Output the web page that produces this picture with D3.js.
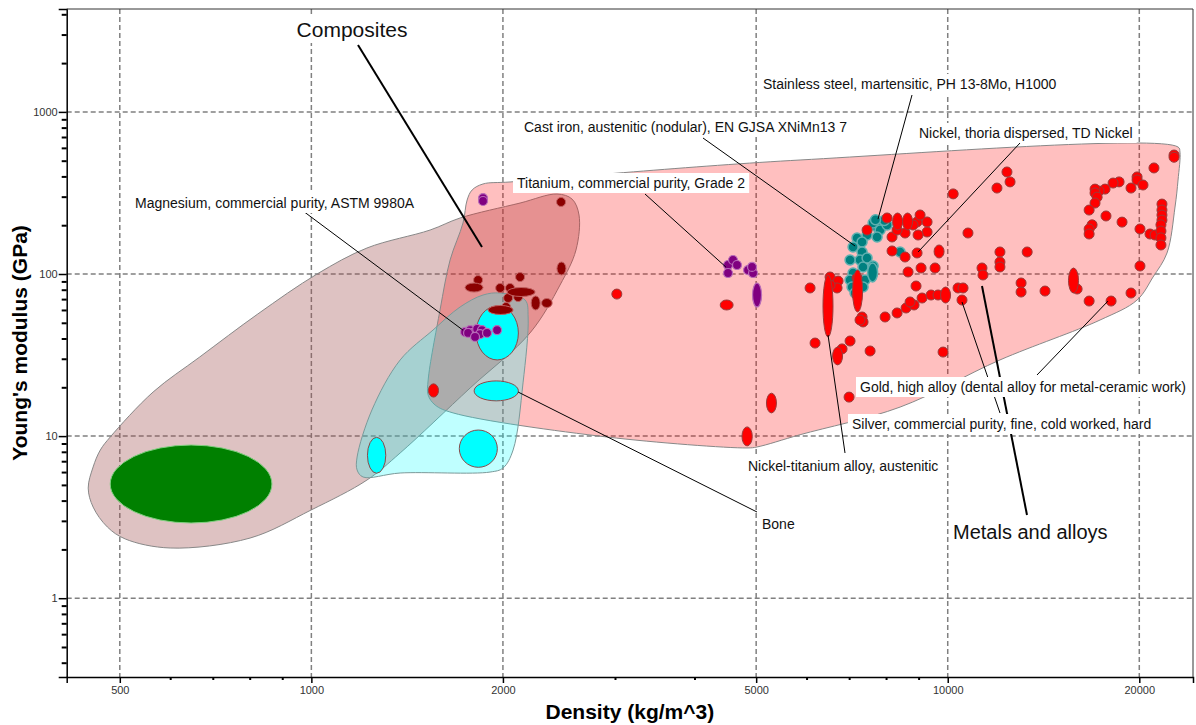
<!DOCTYPE html>
<html>
<head>
<meta charset="utf-8">
<script src="https://cdnjs.cloudflare.com/ajax/libs/d3/7.8.5/d3.min.js"></script>
<style>
  body { margin: 0; background: #fff; }
  svg { display: block; font-family: "Liberation Sans", Arial, sans-serif; }
</style>
</head>
<body>
<div id="chart"></div>
<script>
// ---- data: density (kg/m^3), Young's modulus (GPa) ----
const xMajor = [500, 1000, 2000, 5000, 10000, 20000];
const xMinor = [600, 700, 800, 900, 3000, 4000, 6000, 7000, 8000, 9000];
const yMajor = [1, 10, 100, 1000];
const yMinor = [0.4, 0.5, 0.6, 0.7, 0.8, 0.9, 2, 3, 4, 5, 6, 7, 8, 9,
  20, 30, 40, 50, 60, 70, 80, 90, 200, 300, 400, 500, 600, 700, 800, 900, 2000, 3000, 4000];

// family envelopes, outline points [density, modulus]
const naturalEnvelope = [[466, 8.21], [483, 9.87], [564, 18.7], [668, 30.8], [824, 56.7], [1021, 100],
  [1223, 144.7], [1537, 186.8], [1713, 221.6], [2128, 274], [2432, 311.5], [2568, 290], [2634, 231],
  [2605, 140.6], [2459, 85.5], [2206, 43.3], [1776, 19.8], [1379, 7.87], [1223, 5.36], [999, 3.5],
  [801, 2.35], [600, 2.04], [510, 2.32], [478, 2.75], [454, 3.65], [446, 4.78], [454, 6.45]];
const metalsEnvelope = [[1789, 329.8], [1861, 359.2], [2052, 369.6], [5861, 505], [23010, 607.5],
  [23170, 565], [23010, 380], [22760, 259], [22110, 134.8], [21020, 95.8], [19840, 69.1], [17350, 52],
  [12080, 29.5], [8416, 15.1], [5861, 10.2], [5016, 8.57], [4837, 8.45], [2915, 9.87], [1670, 13.9],
  [1565, 15.55], [1526, 17.9], [1526, 22.2], [1593, 60], [1652, 122], [1731, 206.4], [1757, 286]];
const boneEnvelope = [[1180, 7.43], [1245, 14.5], [1379, 29.5], [1553, 45.1], [1713, 62.6], [1861, 74.2],
  [1980, 76.3], [2167, 69.1], [2191, 54.3], [2151, 21.3], [2075, 8.21], [2001, 6.36], [1909, 6.0],
  [1379, 5.92], [1206, 5.59], [1180, 6.18]];

// materials: [density, modulus] or ranges [rhoLo, rhoHi, eLo, eHi]
const foamBubbles = [[483, 867, 2.91, 8.81]];
const boneBubbles = [[1815, 2115, 29.5, 63.5], [1802, 2115, 16.5, 21.9], [1708, 1960, 6.42, 10.9],
  [1225, 1309, 5.9, 9.83]];
const compositeBubbles = [[2468, 278.1], [1828, 91.8], [2128, 95.8], [1980, 82], [2052, 82], [2038, 71.1],
  [2113, 72.1], [2023, 62.6], [2440, 2504, 98.6, 118.6], [1744, 1861, 77.4, 88], [2030, 2247, 74.2, 80.8],
  [2223, 2280, 60, 73.2], [2300, 2390, 64.5, 68], [1895, 2075, 57.5, 62.6]];
const lightAlloyBubbles = [[1744, 43.9], [1776, 45.1], [1795, 43.3], [1822, 45.8], [1854, 45.1],
  [1841, 42.6], [1888, 43.3], [1958, 45.1], [1763, 43.3], [1808, 40.9], [1861, 294], [1861, 282],
  [4516, 113.6], [4598, 122], [4665, 113.6], [4516, 101.4], [4855, 105.8], [4944, 101.4], [4926, 110.5],
  [4944, 5089, 62.6, 88]];
const stainlessBubbles = [[7860, 207], [7740, 195], [7634, 206.4], [7830, 186.8], [8030, 200.6],
  [7950, 214], [7700, 216], [7469, 174], [7203, 166.8], [7335, 157.5], [7100, 146.8], [7745, 169.2],
  [7335, 136.7], [7281, 122], [7023, 122], [7361, 110.5], [7469, 125.5], [7634, 112], [7100, 101.4],
  [7023, 91.8], [7074, 83.1], [7151, 76.3], [7415, 91.8], [7361, 83.1], [8416, 136.7],
  [7496, 7745, 89.3, 116.9]];
const metalBubbles = [[3020, 75.2], [6533, 95.8], [6725, 90.5], [6700, 82], [6533, 85.5], [6077, 82],
  [6188, 37.5], [6823, 34.5], [7023, 38.6], [7551, 33.5], [6998, 17.4], [7203, 94.5], [7203, 74.2],
  [7335, 54.3], [7361, 50.6], [7281, 52], [7972, 54.3], [8326, 57.5], [8601, 61.7], [8853, 64.4],
  [8726, 67.2], [9114, 71.1], [9415, 74.2], [9656, 74.2], [8663, 102.9], [8917, 84.3], [9081, 108.9],
  [9553, 108.9], [8570, 127.3], [8950, 134.8], [8175, 138.7], [8030, 221.6], [8950, 209.4], [9048, 231.2],
  [9280, 209.4], [9280, 181.6], [8983, 174], [8175, 169.2], [8570, 179], [8821, 200.6], [8326, 186.8],
  [7469, 186.8], [10200, 312], [9833, 33], [10380, 82], [10570, 82], [10530, 69.1], [11320, 108.9],
  [11360, 98.6], [12080, 136.7], [12080, 118.6], [12080, 110.5], [13040, 88], [13040, 77.4],
  [14220, 78.5], [15970, 80.8], [16680, 68.1], [18060, 68.1], [19410, 76.3], [20050, 112],
  [13330, 136.7], [12390, 426], [12530, 370], [11950, 339], [10760, 179], [22680, 542], [22680, 525],
  [21090, 451], [19840, 397], [19840, 380], [20270, 354], [19410, 339], [18590, 370], [18190, 364],
  [17670, 334], [17290, 325], [17040, 334], [17040, 316], [17170, 298], [17040, 274], [16680, 248],
  [17730, 228], [18790, 209], [16860, 201], [16680, 189.5], [16680, 176.5], [20050, 189.5],
  [20790, 176.5], [21170, 174], [21710, 270], [21710, 248], [21710, 231], [21710, 215], [21630, 201],
  [21630, 184], [21630, 167], [21630, 151],
  [4390, 4600, 60, 69.1], [1531, 1581, 17.4, 21], [5200, 5370, 13.9, 18.4], [4750, 4930, 8.7, 11.4],
  [6370, 6600, 40.9, 98.6], [6604, 6823, 27.5, 35.4], [7100, 7335, 58.3, 105.8], [9797, 10050, 66.2, 83.1],
  [9553, 9833, 125.5, 151], [8206, 8477, 186.8, 237.9], [8508, 8790, 186.8, 237.9], [15510, 16020, 76.3, 108.9]];

// annotations: label layout in px, target in data units
const labels = [
  { text: "Composites", size: 21, tx: 352, ty: 37, anchor: "middle", lx: 358, ly: 45, target: [1854, 146.8], heavy: true },
  { text: "Magnesium, commercial purity, ASTM 9980A", tx: 135, ty: 208, lx: 295, ly: 205, target: [1730, 45.1] },
  { text: "Titanium, commercial purity, Grade 2", tx: 517, ty: 188, lx: 645, ly: 194, target: [4480, 110.5] },
  { text: "Cast iron, austenitic (nodular), EN GJSA XNiMn13 7", tx: 524, ty: 132, lx: 703, ly: 138, target: [7151, 148.8] },
  { text: "Stainless steel, martensitic, PH 13-8Mo, H1000", tx: 763, ty: 89, lx: 912, ly: 95, target: [7770, 218] },
  { text: "Nickel, thoria dispersed, TD Nickel", tx: 919, ty: 138, lx: 1020, ly: 143, target: [8983, 136.7] },
  { text: "Bone", tx: 762, ty: 529, lx: 757, ly: 512, target: [2113, 18.7] },
  { text: "Nickel-titanium alloy, austenitic", tx: 748, ty: 471, lx: 845, ly: 453, target: [6485, 42] },
  { text: "Gold, high alloy (dental alloy for metal-ceramic work)", tx: 860, ty: 392, lx: 1037, ly: 375, target: [17860, 68.1] },
  { text: "Silver, commercial purity, fine, cold worked, hard", tx: 852, ty: 429, lx: 1000, ly: 413, target: [10530, 67.2] },
  { text: "Metals and alloys", size: 20, tx: 953, ty: 539, lx: 1027, ly: 515, target: [11320, 84.3], heavy: true }
];

// ---- chart ----
const W = 1196, H = 725;
const plot = { left: 66.7, right: 1193, top: 9, bottom: 677 };

const svg = d3.select("#chart").append("svg").attr("width", W).attr("height", H);

const x = d3.scaleLog().domain([412.6, 24290]).range([plot.left, plot.right]);
const y = d3.scaleLog().domain([0.3265, 4313]).range([plot.bottom, plot.top]);

// grid
const grid = svg.append("g").attr("stroke", "#808080").attr("stroke-width", 1.5).attr("stroke-dasharray", "5,3");
grid.selectAll(".gx").data(xMajor).enter().append("line")
  .attr("x1", d => x(d)).attr("x2", d => x(d)).attr("y1", plot.top).attr("y2", plot.bottom);
grid.selectAll(".gy").data(yMajor).enter().append("line")
  .attr("x1", plot.left).attr("x2", plot.right).attr("y1", d => y(d)).attr("y2", d => y(d));

// envelopes
const outline = d3.line()
  .x(d => x(d[0]))
  .y(d => y(d[1]))
  .curve(d3.curveCatmullRomClosed.alpha(0.5));

svg.append("path").attr("d", outline(naturalEnvelope))
  .attr("fill", "rgb(160,80,80)").attr("fill-opacity", 0.35).attr("stroke", "#888").attr("stroke-width", 1);
svg.append("path").attr("d", outline(metalsEnvelope))
  .attr("fill", "#ff0000").attr("fill-opacity", 0.25).attr("stroke", "#888").attr("stroke-width", 1);
svg.append("path").attr("d", outline(boneEnvelope))
  .attr("fill", "#00ffff").attr("fill-opacity", 0.25).attr("stroke", "#7a9a9a").attr("stroke-width", 1);

// bubbles
function drawBubbles(data, fill, stroke, sw, minR) {
  svg.append("g").selectAll("ellipse").data(data).enter().append("ellipse")
    .attr("cx", d => d.length === 2 ? x(d[0]) : (x(d[0]) + x(d[1])) / 2)
    .attr("cy", d => d.length === 2 ? y(d[1]) : (y(d[2]) + y(d[3])) / 2)
    .attr("rx", d => d.length === 2 ? minR : Math.max(minR, (x(d[1]) - x(d[0])) / 2))
    .attr("ry", d => d.length === 2 ? minR : Math.max(minR, (y(d[2]) - y(d[3])) / 2))
    .attr("fill", fill)
    .attr("stroke", stroke)
    .attr("stroke-width", sw);
}

drawBubbles(foamBubbles, "#008000", "#7fcf7f", 1, 5);
drawBubbles(boneBubbles, "#00ffff", "#8b4a4a", 1, 5);
drawBubbles(compositeBubbles, "#8b0000", "#c06060", 1, 4.5);
drawBubbles(lightAlloyBubbles, "#800080", "#b86cb8", 1.2, 4.5);
drawBubbles(stainlessBubbles, "#008080", "#5fb0b0", 1.5, 5);
drawBubbles(metalBubbles, "#ff0000", "#9b3b3b", 1, 5);

// axes
const axisG = svg.append("g");
const xAxis = axisG.append("g").attr("transform", `translate(0,${plot.bottom})`)
  .call(d3.axisBottom(x).tickValues(xMajor).tickSize(6).tickPadding(3).tickFormat(d3.format("d")));
axisG.append("g").attr("transform", `translate(0,${plot.bottom})`)
  .call(d3.axisBottom(x).tickValues(xMinor).tickSize(3).tickFormat(""))
  .call(g => g.select(".domain").remove())
  .selectAll("line").attr("stroke-width", 2);
const yAxis = axisG.append("g").attr("transform", `translate(${plot.left},0)`)
  .call(d3.axisLeft(y).tickValues(yMajor).tickSize(8).tickPadding(1).tickFormat(d3.format("d")));
axisG.append("g").attr("transform", `translate(${plot.left},0)`)
  .call(d3.axisLeft(y).tickValues(yMinor).tickSize(5).tickFormat(""))
  .call(g => g.select(".domain").remove())
  .selectAll("line").attr("stroke-width", 2);

[xAxis, yAxis].forEach(a => {
  a.select(".domain").attr("stroke", "#000").attr("stroke-width", 1.5);
  a.selectAll(".tick line").attr("stroke-width", 1.5);
  a.selectAll("text").attr("font-size", "11px").attr("fill", "#333")
    .attr("font-family", "Liberation Sans, Arial, sans-serif");
});

// frame top/right
svg.append("path")
  .attr("d", `M${plot.left},${plot.top}H${plot.right}V${plot.bottom}`)
  .attr("fill", "none").attr("stroke", "#333").attr("stroke-width", 1);

// axis titles
svg.append("text")
  .attr("x", (plot.left + plot.right) / 2).attr("y", 719)
  .attr("text-anchor", "middle").attr("font-size", "21px").attr("font-weight", "bold")
  .text("Density (kg/m^3)");
svg.append("text")
  .attr("transform", `translate(27,${(plot.top + plot.bottom) / 2}) rotate(-90)`)
  .attr("text-anchor", "middle").attr("font-size", "21px").attr("font-weight", "bold")
  .text("Young's modulus (GPa)");

// annotations
const ann = svg.append("g");
ann.selectAll("line").data(labels).enter().append("line")
  .attr("x1", d => d.lx).attr("y1", d => d.ly)
  .attr("x2", d => x(d.target[0])).attr("y2", d => y(d.target[1]))
  .attr("stroke", "#000").attr("stroke-width", d => d.heavy ? 2 : 1);

const boxes = ann.append("g");
const texts = ann.selectAll("text").data(labels).enter().append("text")
  .attr("x", d => d.tx).attr("y", d => d.ty)
  .attr("text-anchor", d => d.anchor || "start")
  .attr("font-size", d => (d.size || 14) + "px")
  .attr("fill", "#111")
  .text(d => d.text);

texts.each(function () {
  const b = this.getBBox();
  boxes.append("rect")
    .attr("x", b.x - 4).attr("y", b.y - 2)
    .attr("width", b.width + 8).attr("height", b.height + 4)
    .attr("fill", "#fff");
});
</script>
</body>
</html>
